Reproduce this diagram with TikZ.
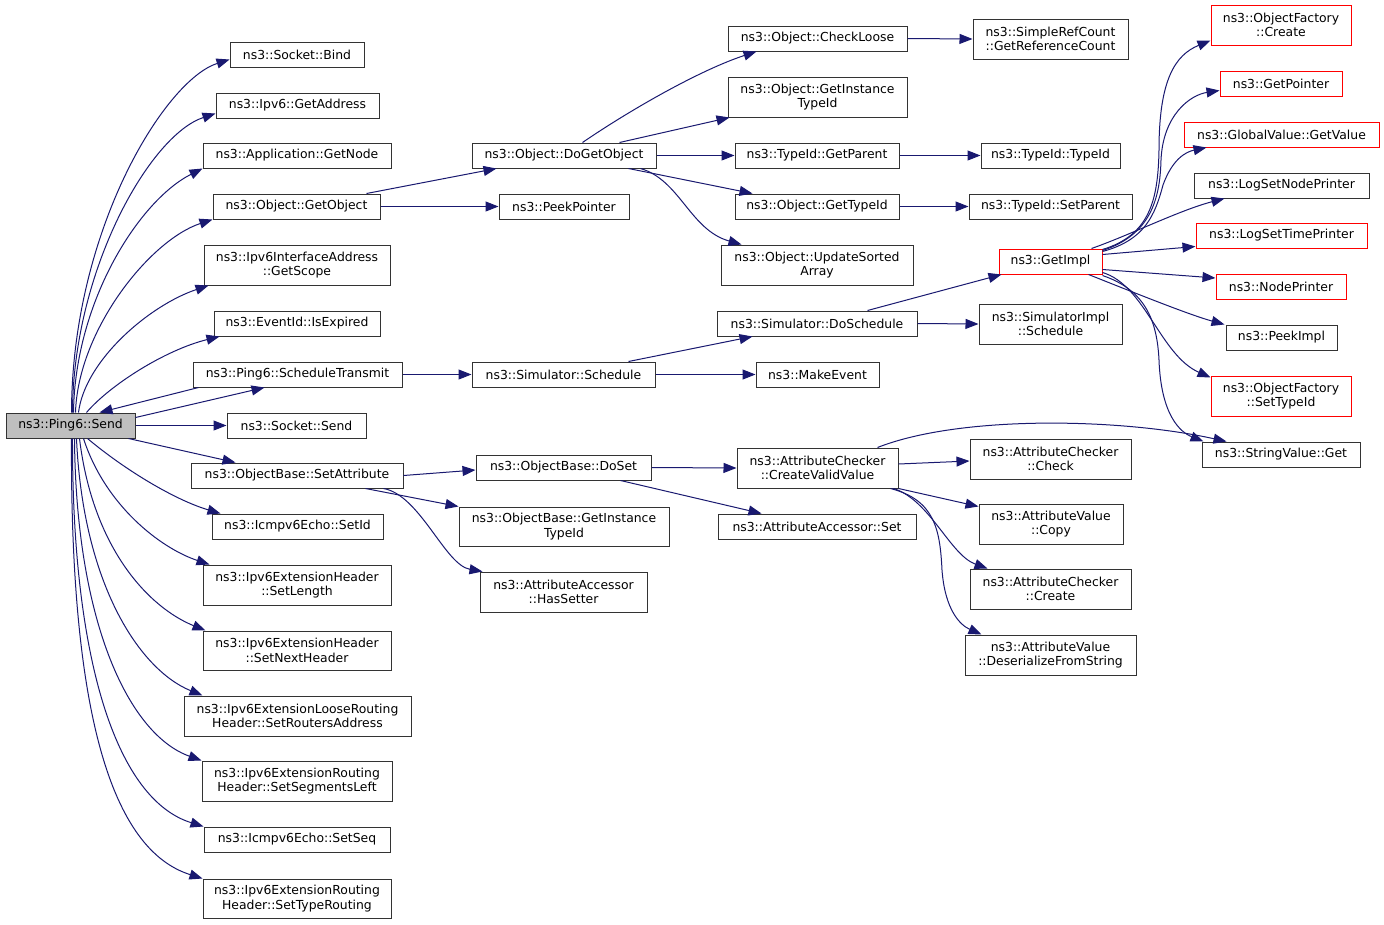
\documentclass[tikz,border=0pt]{standalone}
\usepackage{fontspec}
\setmainfont{DejaVu Sans}
\usetikzlibrary{arrows.meta}
\definecolor{edgec}{HTML}{191970}
\definecolor{boxc}{HTML}{333333}
\definecolor{redc}{HTML}{FF0000}
\definecolor{hubc}{HTML}{BFBFBF}
\tikzset{
  box/.style={draw=boxc, line width=1pt, fill=white, inner sep=0pt, align=center,
    font=\fontsize{12.4}{14.5}\selectfont},
  redbox/.style={box, draw=redc},
  hub/.style={box, fill=hubc},
  sz/.style 2 args={minimum width=#1pt, minimum height=#2pt},
  edge/.style={draw=edgec, line width=1pt, -{Triangle[length=13pt,width=10pt]}}
}
\begin{document}
\begin{tikzpicture}[x=1pt,y=-1pt]
\useasboundingbox[fill=white] (0,0) rectangle (1384,924);
% column 0/1
\node[hub, sz={129}{25}] (send) at (70.5,425.5) {ns3::Ping6::Send};
\node[box, sz={134}{25}] (bind) at (297,54.5) {ns3::Socket::Bind};
\node[box, sz={163}{25}] (getaddr) at (297.5,105.5) {ns3::Ipv6::GetAddress};
\node[box, sz={188}{25}] (getnode) at (297,155.5) {ns3::Application::GetNode};
\node[box, sz={167}{25}] (getobj) at (296.5,206.5) {ns3::Object::GetObject};
\node[box, sz={186}{40}] (getscope) at (297,265) {ns3::Ipv6InterfaceAddress\\::GetScope};
\node[box, sz={166}{25}] (isexp) at (297,323.5) {ns3::EventId::IsExpired};
\node[box, sz={209}{25}] (schedtx) at (297.5,374.5) {ns3::Ping6::ScheduleTransmit};
\node[box, sz={139}{25}] (socksend) at (296.5,425.5) {ns3::Socket::Send};
\node[box, sz={212}{25}] (setattr) at (297,475.5) {ns3::ObjectBase::SetAttribute};
\node[box, sz={171}{25}] (setid) at (297.5,526.5) {ns3::Icmpv6Echo::SetId};
\node[box, sz={188}{40}] (setlen) at (297,585) {ns3::Ipv6ExtensionHeader\\::SetLength};
\node[box, sz={188}{39}] (setnext) at (297,650.5) {ns3::Ipv6ExtensionHeader\\::SetNextHeader};
\node[box, sz={227}{40}] (setrout) at (297.5,716) {ns3::Ipv6ExtensionLooseRouting\\Header::SetRoutersAddress};
\node[box, sz={190}{40}] (setseg) at (297,781) {ns3::Ipv6ExtensionRouting\\Header::SetSegmentsLeft};
\node[box, sz={186}{25}] (setseq) at (297,839.5) {ns3::Icmpv6Echo::SetSeq};
\node[box, sz={188}{39}] (settype) at (297,898.5) {ns3::Ipv6ExtensionRouting\\Header::SetTypeRouting};
% column 2
\node[box, sz={184}{25}] (dogetobj) at (564,155.5) {ns3::Object::DoGetObject};
\node[box, sz={130}{25}] (peekptr) at (564,206.5) {ns3::PeekPointer};
\node[box, sz={183}{25}] (schedule) at (563.5,374.5) {ns3::Simulator::Schedule};
\node[box, sz={175}{25}] (doset) at (563.5,467.5) {ns3::ObjectBase::DoSet};
\node[box, sz={210}{39}] (obgetinst) at (564,526.5) {ns3::ObjectBase::GetInstance\\TypeId};
\node[box, sz={167}{40}] (hassetter) at (563.5,592) {ns3::AttributeAccessor\\::HasSetter};
% column 3
\node[box, sz={179}{25}] (checkloose) at (817.5,38.5) {ns3::Object::CheckLoose};
\node[box, sz={179}{40}] (getinst) at (817.5,97) {ns3::Object::GetInstance\\TypeId};
\node[box, sz={164}{25}] (getparent) at (817,155.5) {ns3::TypeId::GetParent};
\node[box, sz={164}{25}] (gettypeid) at (817,206.5) {ns3::Object::GetTypeId};
\node[box, sz={192}{40}] (updsorted) at (817,265) {ns3::Object::UpdateSorted\\Array};
\node[box, sz={200}{25}] (dosched) at (817,323.5) {ns3::Simulator::DoSchedule};
\node[box, sz={123}{25}] (makeevent) at (817.5,374.5) {ns3::MakeEvent};
\node[box, sz={161}{40}] (createvalid) at (817.5,468) {ns3::AttributeChecker\\::CreateValidValue};
\node[box, sz={198}{25}] (accset) at (817,526.5) {ns3::AttributeAccessor::Set};
% column 4
\node[box, sz={155}{40}] (getrefcount) at (1050.5,39) {ns3::SimpleRefCount\\::GetReferenceCount};
\node[box, sz={139}{25}] (typeidtypeid) at (1050.5,155.5) {ns3::TypeId::TypeId};
\node[box, sz={163}{25}] (setparent) at (1050.5,206.5) {ns3::TypeId::SetParent};
\node[redbox, sz={103}{25}] (getimpl) at (1050.5,261.5) {ns3::GetImpl};
\node[box, sz={143}{40}] (simimplsched) at (1050.5,324) {ns3::SimulatorImpl\\::Schedule};
\node[box, sz={161}{40}] (check) at (1050.5,459) {ns3::AttributeChecker\\::Check};
\node[box, sz={144}{40}] (copy) at (1051,524) {ns3::AttributeValue\\::Copy};
\node[box, sz={161}{40}] (accreate) at (1050.5,589) {ns3::AttributeChecker\\::Create};
\node[box, sz={171}{40}] (deser) at (1050.5,655) {ns3::AttributeValue\\::DeserializeFromString};
% column 5
\node[redbox, sz={140}{40}] (ofcreate) at (1281,25) {ns3::ObjectFactory\\::Create};
\node[redbox, sz={122}{25}] (getpointer) at (1281,83.5) {ns3::GetPointer};
\node[redbox, sz={195}{25}] (globalval) at (1281.5,134.5) {ns3::GlobalValue::GetValue};
\node[box, sz={175}{25}] (lognode) at (1281.5,185.5) {ns3::LogSetNodePrinter};
\node[redbox, sz={171}{25}] (logtime) at (1281.5,235.5) {ns3::LogSetTimePrinter};
\node[redbox, sz={130}{25}] (nodeprinter) at (1281,286.5) {ns3::NodePrinter};
\node[box, sz={111}{25}] (peekimpl) at (1281.5,337.5) {ns3::PeekImpl};
\node[redbox, sz={140}{40}] (ofsettype) at (1281,396) {ns3::ObjectFactory\\::SetTypeId};
\node[box, sz={158}{25}] (strget) at (1281,454.5) {ns3::StringValue::Get};

% ---- edges from Send (upper fan)
\draw[edge] ([xshift=66pt]send.north west) .. controls (72,230) and (165,80) .. ([yshift=8pt]bind.south west);
\draw[edge] ([xshift=67pt]send.north west) .. controls (73,270) and (150,135) .. ([yshift=5pt]getaddr.south west);
\draw[edge] ([xshift=68pt]send.north west) .. controls (75,300) and (140,200) .. (getnode.south west);
\draw[edge] ([xshift=70pt]send.north west) .. controls (78,330) and (150,240) .. (getobj.south west);
\draw[edge] ([xshift=73pt]send.north west) .. controls (85,360) and (150,305) .. ([xshift=5pt]getscope.south west);
\draw[edge] ([xshift=81pt]send.north west) .. controls (110,385) and (165,350) .. ([xshift=6pt]isexp.south west);
\draw[edge] ([yshift=-5pt]send.north east) -- ([xshift=72pt]schedtx.south west);
\draw[edge] ([xshift=6pt]schedtx.south west) -- ([xshift=94pt]send.north west);
\draw[edge] (send.east) -- (socksend.west);
\draw[edge] ([xshift=-7pt]send.south east) -- ([xshift=45pt]setattr.north west);
% lower fan
\draw[edge] ([xshift=82pt]send.south west) .. controls (125,470) and (175,500) .. ([xshift=9pt]setid.north west);
\draw[edge] ([xshift=78pt]send.south west) .. controls (105,505) and (160,548) .. ([xshift=7pt]setlen.north west);
\draw[edge] ([xshift=74pt]send.south west) .. controls (93,550) and (150,608) .. ([xshift=3pt]setnext.north west);
\draw[edge] ([xshift=71pt]send.south west) .. controls (83,585) and (140,670) .. ([xshift=19pt]setrout.north west);
\draw[edge] ([xshift=69pt]send.south west) .. controls (76,625) and (130,735) .. (setseg.north west);
\draw[edge] ([xshift=67pt]send.south west) .. controls (72,665) and (118,800) .. (setseq.north west);
\draw[edge] ([xshift=66pt]send.south west) .. controls (70,715) and (112,850) .. (settype.north west);

% ---- column 1 -> 2
\draw[edge] ([xshift=-14pt]getobj.north east) -- ([xshift=25pt]dogetobj.south west);
\draw[edge] (getobj.east) -- (peekptr.west);
\draw[edge] (schedtx.east) -- (schedule.west);
\draw[edge] (setattr.east) -- ([yshift=-2.5pt]doset.west);
\draw[edge] ([xshift=-38pt]setattr.south east) -- (obgetinst.north west);
\draw[edge] ([xshift=-20pt]setattr.south east) .. controls (420,495) and (445,565) .. ([xshift=3pt]hassetter.north west);

% ---- column 2 -> 3
\draw[edge] ([xshift=111pt]dogetobj.north west) .. controls (630,110) and (700,70) .. ([xshift=29pt]checkloose.south west);
\draw[edge] ([xshift=148pt]dogetobj.north west) -- ([xshift=2pt]getinst.south west);
\draw[edge] (dogetobj.east) -- (getparent.west);
\draw[edge] ([xshift=-28pt]dogetobj.south east) -- ([xshift=18pt]gettypeid.north west);
\draw[edge] ([xshift=-16pt]dogetobj.south east) .. controls (680,180) and (690,230) .. ([xshift=21pt]updsorted.north west);
\draw[edge] ([xshift=-27pt]schedule.north east) -- ([xshift=36pt]dosched.south west);
\draw[edge] (schedule.east) -- (makeevent.west);
\draw[edge] (doset.east) -- (createvalid.west);
\draw[edge] ([xshift=-31pt]doset.south east) -- ([xshift=44pt]accset.north west);

% ---- column 3 -> 4
\draw[edge] (checkloose.east) -- (getrefcount.west);
\draw[edge] (getparent.east) -- (typeidtypeid.west);
\draw[edge] (gettypeid.east) -- (setparent.west);
\draw[edge] ([xshift=-50pt]dosched.north east) -- ([xshift=3pt]getimpl.south west);
\draw[edge] (dosched.east) -- (simimplsched.west);
\draw[edge] ([yshift=4pt]createvalid.east) -- ([yshift=-2pt]check.west);
\draw[edge] (createvalid.south east) -- ([yshift=-3pt]copy.north west);
\draw[edge] ([xshift=-5pt]createvalid.south east) .. controls (930,500) and (950,555) .. ([xshift=18pt]accreate.north west);
\draw[edge] ([xshift=-8pt]createvalid.south east) .. controls (935,500) and (940,530) .. (942,570) .. controls (945,610) and (960,625) .. ([xshift=17pt]deser.north west);
\draw[edge] ([xshift=-21pt]createvalid.north east) .. controls (960,415) and (1120,418) .. ([xshift=25pt]strget.north west);

% ---- GetImpl -> column 5
\draw[edge] ([yshift=-1pt]getimpl.north east) .. controls (1150,235) and (1158,200) .. (1159,150) .. controls (1159,80) and (1175,55) .. ([yshift=5pt]ofcreate.south west);
\draw[edge] ([yshift=-2pt]getimpl.north east) .. controls (1150,235) and (1160,200) .. (1161,160) .. controls (1163,115) and (1190,95) .. ([yshift=6pt]getpointer.south west);
\draw[edge] ([yshift=-3pt]getimpl.north east) .. controls (1145,240) and (1155,215) .. (1163,185) .. controls (1172,160) and (1185,152) .. ([xshift=23pt]globalval.south west);
\draw[edge] ([xshift=-11pt]getimpl.north east) .. controls (1130,235) and (1180,210) .. ([xshift=31pt]lognode.south west);
\draw[edge] ([yshift=-6pt]getimpl.north east) -- ([yshift=2pt]logtime.south west);
\draw[edge] ([yshift=5pt]getimpl.south east) -- ([yshift=8.5pt]nodeprinter.west);
\draw[edge] ([xshift=-14pt]getimpl.south east) .. controls (1140,295) and (1190,315) .. ([xshift=-1pt]peekimpl.north west);
\draw[edge] ([yshift=2pt]getimpl.south east) .. controls (1145,285) and (1160,355) .. ([yshift=-2pt]ofsettype.north west);
\draw[edge] ([yshift=-1pt]getimpl.south east) .. controls (1145,290) and (1157,320) .. (1159,360) .. controls (1161,415) and (1180,432) .. ([xshift=2pt]strget.north west);
\end{tikzpicture}
\end{document}
